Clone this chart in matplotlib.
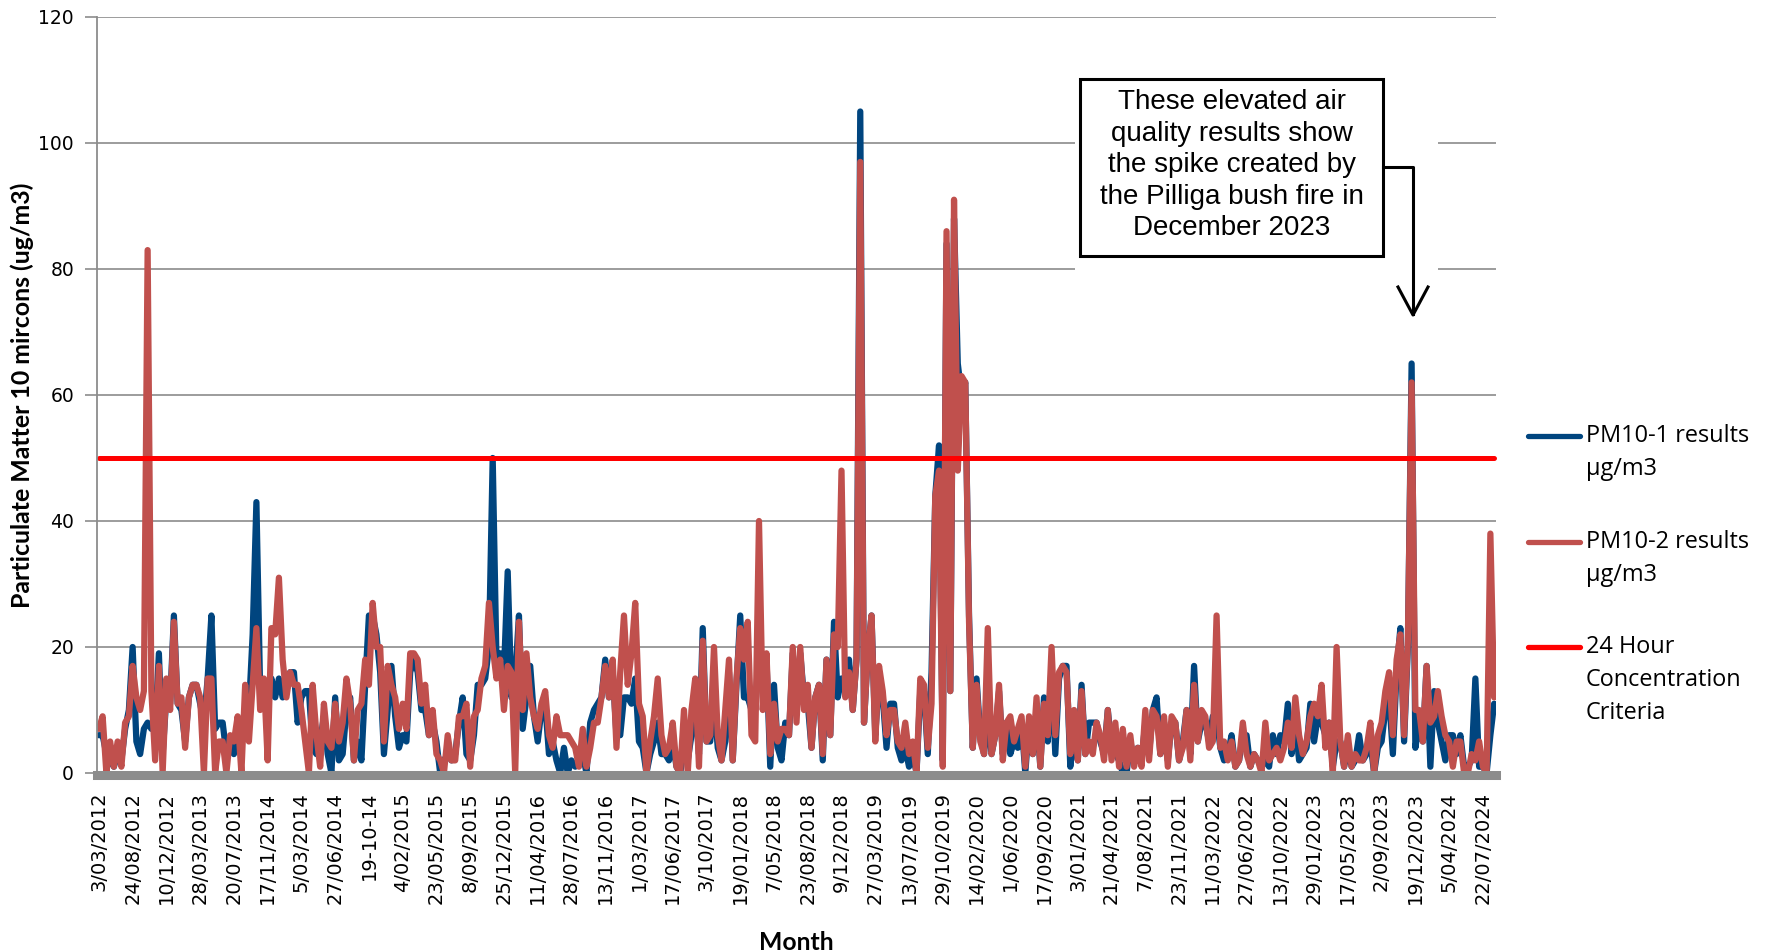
import matplotlib
matplotlib.use("Agg")
import matplotlib.pyplot as plt
from matplotlib.lines import Line2D
from matplotlib.patches import Rectangle
import numpy as np

plt.rcParams["font.family"] = ["DejaVu Sans"]

# ---------------- data ----------------
tick_labels = ["3/03/2012", "24/08/2012", "10/12/2012", "28/03/2013", "20/07/2013",
               "17/11/2014", "5/03/2014", "27/06/2014", "19-10-14", "4/02/2015",
               "23/05/2015", "8/09/2015", "25/12/2015", "11/04/2016", "28/07/2016",
               "13/11/2016", "1/03/2017", "17/06/2017", "3/10/2017", "19/01/2018",
               "7/05/2018", "23/08/2018", "9/12/2018", "27/03/2019", "13/07/2019",
               "29/10/2019", "14/02/2020", "1/06/2020", "17/09/2020", "3/01/2021",
               "21/04/2021", "7/08/2021", "23/11/2021", "11/03/2022", "27/06/2022",
               "13/10/2022", "29/01/2023", "17/05/2023", "2/09/2023", "19/12/2023",
               "5/04/2024", "22/07/2024"]
samples_per_label = 9

pm10_1 = [
    6, 6, 3, 2, 1, 3, 2, 7, 10, 20,
    5, 3, 7, 8, 7, 7, 19, 3, 12, 11,
    25, 11, 10, 5, 12, 14, 14, 11, 8, 15,
    25, 7, 8, 8, 3, 4, 3, 8, 4, 10,
    10, 22, 43, 13, 13, 10, 15, 12, 15, 12,
    13, 16, 16, 8, 12, 13, 13, 4, 3, 5,
    9, 3, 0, 12, 2, 3, 10, 12, 2, 5,
    2, 14, 25, 25, 22, 16, 3, 10, 17, 9,
    4, 6, 5, 16, 18, 16, 10, 10, 6, 8,
    5, 0, 2, 3, 2, 3, 8, 12, 3, 2,
    6, 14, 14, 15, 20, 50, 18, 19, 16, 32,
    12, 15, 25, 7, 12, 17, 9, 5, 10, 11,
    3, 5, 2, 0, 4, 0, 2, 1, 2, 3,
    0, 8, 10, 11, 12, 18, 12, 16, 6, 6,
    12, 12, 11, 15, 5, 4, 0, 3, 5, 8,
    3, 3, 2, 5, 1, 0, 4, 2, 6, 11,
    3, 23, 5, 5, 12, 4, 2, 5, 16, 2,
    14, 25, 12, 12, 10, 10, 20, 18, 18, 1,
    14, 4, 2, 8, 6, 19, 10, 19, 12, 11,
    4, 12, 14, 2, 18, 6, 24, 12, 15, 15,
    18, 10, 18, 105, 8, 19, 25, 6, 15, 12,
    4, 11, 11, 4, 2, 4, 1, 3, 0, 13,
    13, 3, 16, 44, 52, 2, 84, 13, 88, 65,
    60, 62, 25, 4, 15, 6, 3, 10, 3, 6,
    13, 3, 8, 3, 5, 4, 8, 0, 8, 3,
    10, 1, 12, 5, 17, 3, 15, 17, 17, 1,
    8, 2, 14, 3, 8, 8, 8, 5, 3, 10,
    4, 3, 2, 0, 0, 5, 2, 4, 2, 8,
    3, 10, 12, 3, 8, 2, 8, 8, 2, 5,
    10, 3, 17, 5, 8, 8, 5, 9, 9, 4,
    2, 3, 6, 1, 2, 6, 6, 1, 3, 2,
    1, 2, 1, 6, 3, 6, 5, 11, 3, 8,
    2, 3, 4, 11, 5, 9, 8, 6, 8, 1,
    5, 5, 1, 4, 1, 2, 6, 2, 3, 5,
    0, 4, 5, 10, 12, 3, 16, 23, 5, 20,
    65, 4, 8, 5, 17, 1, 13, 8, 5, 2,
    6, 6, 3, 6, 1, 1, 2, 15, 1, 1,
    0, 6, 11]

pm10_2 = [
    7, 9, 0, 5, 1, 5, 1, 8, 9, 17,
    12, 10, 13, 83, 13, 2, 17, 0, 15, 10,
    24, 11, 12, 4, 12, 14, 14, 12, 0, 15,
    15, 0, 5, 5, 0, 6, 5, 9, 0, 14,
    5, 14, 23, 10, 15, 2, 23, 22, 31, 18,
    12, 16, 14, 14, 10, 5, 0, 14, 6, 1,
    11, 5, 4, 11, 5, 8, 15, 11, 2, 10,
    11, 18, 14, 27, 20, 20, 5, 17, 14, 12,
    7, 11, 7, 19, 19, 18, 11, 14, 6, 10,
    3, 2, 0, 6, 2, 2, 9, 9, 11, 1,
    9, 10, 15, 17, 27, 20, 15, 18, 10, 17,
    16, 0, 24, 10, 19, 12, 9, 7, 11, 13,
    6, 4, 9, 6, 6, 6, 5, 4, 1, 7,
    1, 4, 8, 8, 12, 17, 12, 18, 4, 16,
    25, 14, 19, 27, 11, 9, 0, 5, 9, 15,
    6, 3, 4, 8, 1, 0, 10, 0, 10, 15,
    1, 21, 5, 6, 20, 6, 2, 10, 18, 2,
    15, 23, 18, 24, 6, 5, 40, 10, 19, 3,
    11, 5, 7, 7, 6, 20, 8, 20, 10, 14,
    4, 12, 14, 3, 18, 6, 22, 20, 48, 12,
    16, 10, 18, 97, 8, 19, 25, 5, 17, 13,
    6, 10, 10, 5, 4, 8, 3, 5, 0, 15,
    14, 4, 11, 44, 48, 1, 86, 13, 91, 48,
    63, 62, 24, 4, 14, 5, 3, 23, 3, 6,
    14, 2, 8, 9, 5, 7, 9, 1, 9, 3,
    12, 1, 11, 6, 20, 6, 16, 17, 16, 3,
    10, 2, 13, 3, 5, 3, 8, 6, 2, 10,
    2, 8, 1, 7, 1, 6, 1, 4, 1, 10,
    2, 10, 9, 3, 9, 1, 9, 8, 2, 4,
    10, 2, 14, 5, 10, 9, 4, 5, 25, 4,
    5, 2, 5, 1, 2, 8, 3, 1, 3, 2,
    0, 8, 2, 3, 4, 2, 4, 8, 4, 12,
    6, 3, 5, 9, 11, 9, 14, 4, 8, 0,
    20, 5, 1, 6, 1, 3, 2, 2, 4, 8,
    0, 6, 8, 13, 16, 6, 18, 22, 6, 21,
    62, 10, 10, 5, 17, 8, 9, 13, 9, 6,
    5, 1, 5, 5, 0, 0, 3, 2, 5, 1,
    0, 38, 12]

criteria = 50

series_names = ["PM10-1 results\nµg/m3", "PM10-2 results\nµg/m3",
                "24 Hour\nConcentration\nCriteria"]
annotation_lines = ["These elevated air", "quality results show",
                    "the spike created by", "the Pilliga bush fire in",
                    "December 2023"]

# ---------------- figure ----------------
W, H = 1767, 952
fig = plt.figure(figsize=(W / 100, H / 100), dpi=100)
fig.patch.set_facecolor("white")


def fx(px):
    return px / W


def fy(py):
    return 1 - py / H


ax_left, ax_right, ax_top, ax_bot = 97, 1496, 17, 773
ax = fig.add_axes([fx(ax_left), fy(ax_bot), (ax_right - ax_left) / W, (ax_bot - ax_top) / H])

n = len(pm10_1)
x = np.arange(n)
c_blue = "#00457F"
c_brown = "#C0504D"
c_red = "#FF0000"

ax.plot(x, pm10_1, color=c_blue, lw=4.5, solid_joinstyle="round", solid_capstyle="round", zorder=2)
ax.plot(x, pm10_2, color=c_brown, lw=4.5, solid_joinstyle="round", solid_capstyle="round", zorder=2.1)
ax.plot(x, [criteria] * n, color=c_red, lw=3.6, solid_capstyle="round", zorder=2.2, clip_on=False)

ax.set_xlim(-0.5, n - 0.5)
ax.set_ylim(0, 120)
ax.set_yticks(np.arange(0, 121, 20))
ax.yaxis.grid(True, color="#9c9c9c", lw=1.4)
ax.set_axisbelow(True)

tick_pos = np.arange(len(tick_labels)) * samples_per_label
ax.set_xticks(tick_pos, labels=tick_labels)
ax.tick_params(axis="x", length=0, pad=12, labelrotation=90, labelsize=14)
ax.tick_params(axis="y", length=9, width=1.2, color="#8c8c8c", pad=7.5, labelsize=13.5)

for s in ["top", "right"]:
    ax.spines[s].set_visible(False)
ax.spines["left"].set_color("#8c8c8c")
ax.spines["left"].set_linewidth(1.3)
ax.spines["bottom"].set_color("#8c8c8c")
ax.spines["bottom"].set_linewidth(6.5)
ax.spines["bottom"].set_position(("outward", 1.5))
ax.spines["bottom"].set_zorder(3)

renderer = fig.canvas.get_renderer()


def fit(t, target, dim="w"):
    bb = t.get_window_extent(renderer)
    cur = bb.width if dim == "w" else bb.height
    if cur > 0:
        t.set_fontsize(t.get_fontsize() * target / cur)


bold_font = ["Lato", "DejaVu Sans"]
ylab = fig.text(fx(22), fy(395), "Particulate Matter 10 mircons (ug/m3)", rotation=90,
                ha="center", va="center", fontsize=16, fontweight="bold", family=bold_font)
fit(ylab, 426, "h")
xlab = fig.text(fx(796), fy(942), "Month", ha="center", va="center", fontsize=16,
                fontweight="bold", family=bold_font)
fit(xlab, 75, "w")

# ---------------- legend (manual) ----------------
leg_colors = [c_blue, c_brown, c_red]
leg_y = [436, 542, 647]
ref = fig.text(0, 0, "PM10-1 results", fontsize=16, family=["Open Sans", "DejaVu Sans"])
fit(ref, 163, "w")
leg_size = ref.get_fontsize()
ref.remove()
for name, col, yy in zip(series_names, leg_colors, leg_y):
    fig.add_artist(Line2D([fx(1528), fx(1580)], [fy(yy), fy(yy)], color=col, lw=3.8,
                          solid_capstyle="round", transform=fig.transFigure))
    for k, line in enumerate(name.split("\n")):
        fig.text(fx(1586), fy(yy + 33 * k), line, ha="left", va="center",
                 fontsize=leg_size, family=["Open Sans", "DejaVu Sans"])

# ---------------- annotation ----------------
fig.add_artist(Rectangle((fx(1075), fy(322)), fx(1438) - fx(1075), fy(68) - fy(322),
                         transform=fig.transFigure, facecolor="white", edgecolor="none",
                         zorder=5))
fig.add_artist(Rectangle((fx(1080), fy(256)), fx(1383) - fx(1080), fy(79) - fy(256),
                         transform=fig.transFigure, facecolor="white", edgecolor="black",
                         lw=2.2, zorder=6))
for k, line in enumerate(annotation_lines):
    fig.text(fx(1231.5), fy(102 + 31.6 * k), line, ha="center", va="center",
             fontsize=20, family=["Liberation Sans", "DejaVu Sans"], zorder=7)
fig.add_artist(Line2D([fx(1383), fx(1413), fx(1413)], [fy(167), fy(167), fy(314)],
                      color="black", lw=2.2, transform=fig.transFigure, zorder=7))
fig.add_artist(Line2D([fx(1398), fx(1413), fx(1428)], [fy(287), fy(315), fy(287)],
                      color="black", lw=2.2, transform=fig.transFigure, zorder=7))

fig.savefig("out.png", dpi=100, facecolor="white")
